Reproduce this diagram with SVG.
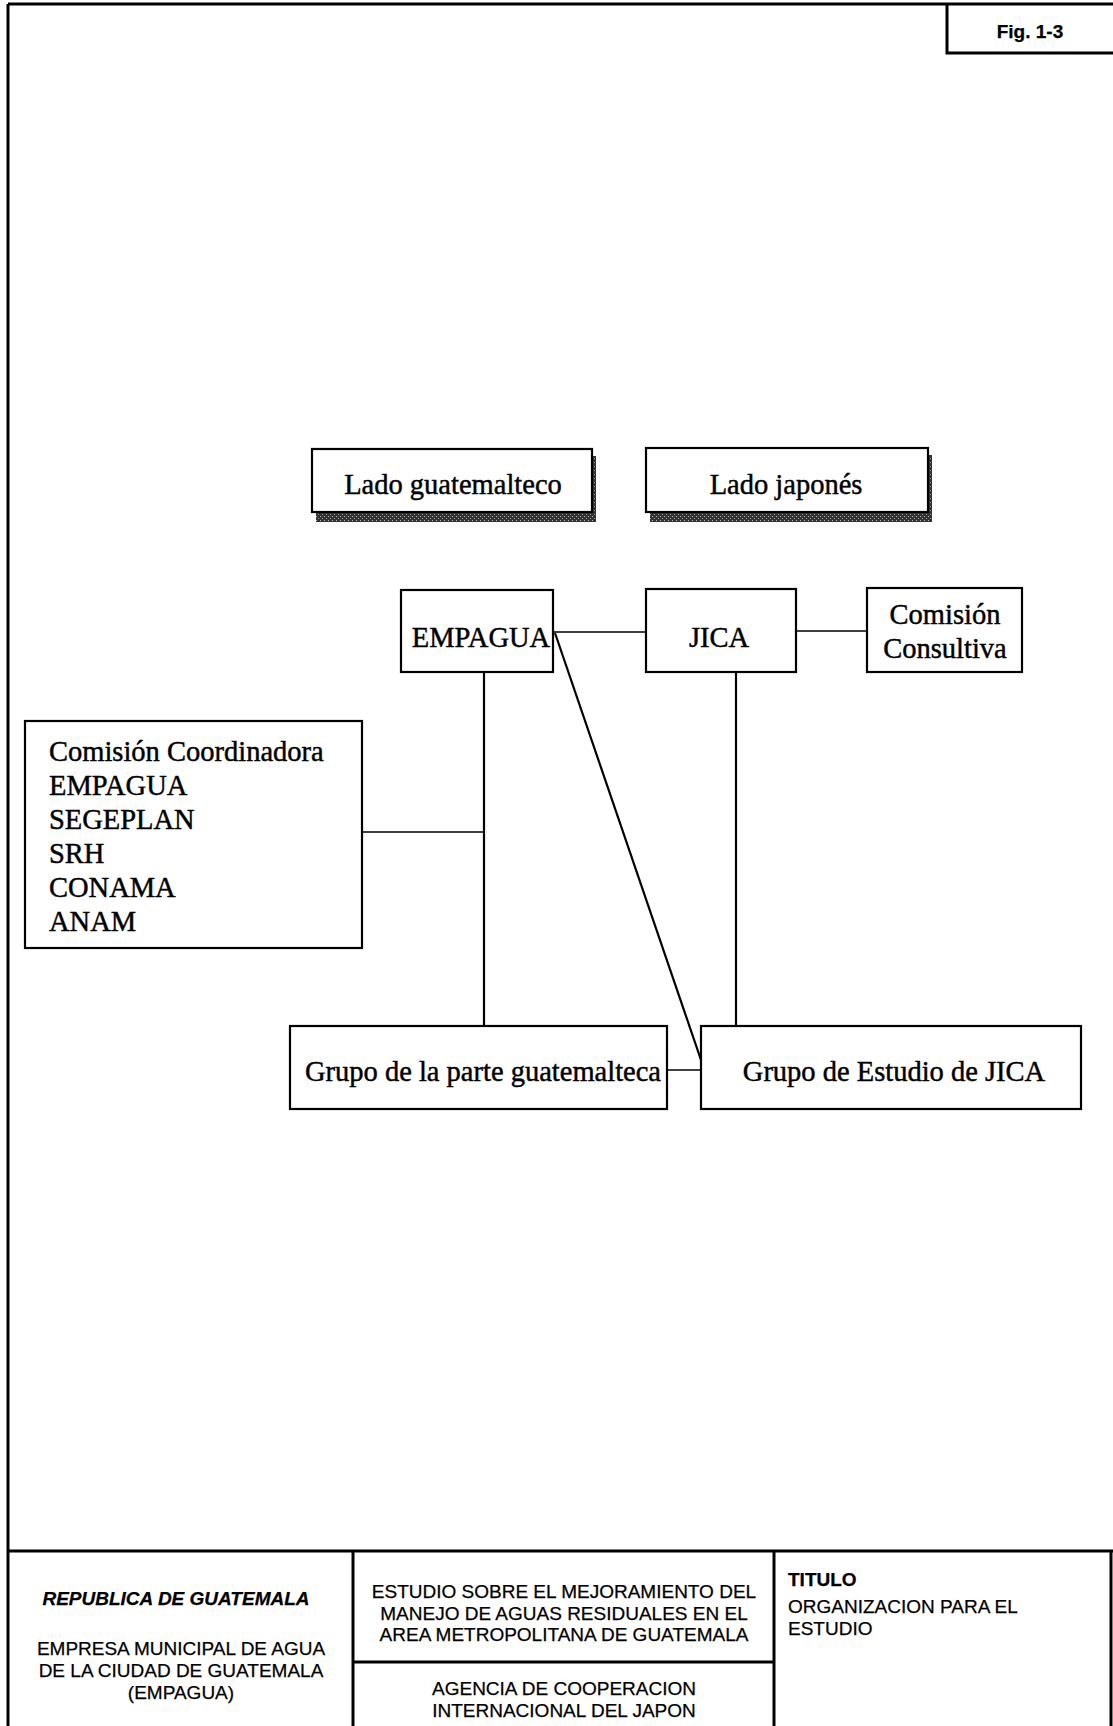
<svg xmlns="http://www.w3.org/2000/svg" width="1113" height="1726" viewBox="0 0 1113 1726">
<style>
.frame{fill:none;stroke:#000;stroke-width:3}
.box{fill:#fff;stroke:#000;stroke-width:2.2}
.conn{fill:none;stroke:#000;stroke-width:1.6}
.vconn{fill:none;stroke:#000;stroke-width:2.2}
.t{font-family:"Liberation Serif","Times New Roman",serif;font-size:28.5px;fill:#000;stroke:#000;stroke-width:0.45}
.tc{text-anchor:middle}
.s{font-family:"Liberation Sans",Arial,sans-serif;font-size:19px;fill:#000;stroke:#000;stroke-width:0.25}
.sb{font-weight:bold}
</style>
<defs>
<pattern id="half" width="4" height="4" patternUnits="userSpaceOnUse">
<rect width="4" height="4" fill="#333"/>
<rect x="0" y="0" width="1" height="1" fill="#bbb"/>
<rect x="2" y="2" width="1" height="1" fill="#999"/>
</pattern>
</defs>
<rect width="1113" height="1726" fill="#fff"/>
<g id="frame">
<line class="frame" x1="8" y1="4" x2="8" y2="1726"/>
<line class="frame" x1="8" y1="4" x2="1113" y2="4" stroke-width="2"/>
<line class="frame" x1="1111" y1="1552" x2="1111" y2="1726"/>
</g>
<g id="fig-label">
<polyline class="frame" points="947,4 947,53 1113,53" stroke-width="2"/>
<text class="s sb tc" x="1030" y="38" font-size="17">Fig. 1-3</text>
</g>
<g id="lado-guatemalteco">
<rect x="316" y="456" width="280" height="66" fill="url(#half)"/>
<rect class="box" x="312" y="449" width="280" height="63"/>
<text class="t tc" x="453" y="494">Lado guatemalteco</text>
</g>
<g id="lado-japones">
<rect x="650" y="455" width="282" height="67" fill="url(#half)"/>
<rect class="box" x="646" y="448" width="282" height="64"/>
<text class="t tc" x="786" y="494">Lado japonés</text>
</g>
<g id="connectors">
<line class="conn" x1="553" y1="632" x2="646" y2="632"/>
<line class="conn" x1="796" y1="631" x2="867" y2="631"/>
<line class="vconn" x1="484" y1="672" x2="484" y2="1026"/>
<line class="vconn" x1="736" y1="672" x2="736" y2="1026"/>
<line class="conn" x1="362" y1="832" x2="484" y2="832"/>
<line class="vconn" x1="555" y1="633" x2="701" y2="1060"/>
<line class="conn" x1="667" y1="1070" x2="701" y2="1070"/>
</g>
<g id="empagua">
<rect class="box" x="401" y="590" width="152" height="82"/>
<text class="t tc" x="481" y="647">EMPAGUA</text>
</g>
<g id="jica">
<rect class="box" x="646" y="589" width="150" height="83"/>
<text class="t tc" x="719" y="647">JICA</text>
</g>
<g id="comision-consultiva">
<rect class="box" x="867" y="588" width="155" height="84"/>
<text class="t tc" x="945" y="624">Comisión</text>
<text class="t tc" x="945" y="658">Consultiva</text>
</g>
<g id="comision-coordinadora">
<rect class="box" x="25" y="721" width="337" height="227"/>
<text class="t" x="49" y="761">Comisión Coordinadora</text>
<text class="t" x="49" y="795">EMPAGUA</text>
<text class="t" x="49" y="829">SEGEPLAN</text>
<text class="t" x="49" y="863">SRH</text>
<text class="t" x="49" y="897">CONAMA</text>
<text class="t" x="49" y="931">ANAM</text>
</g>
<g id="grupo-guatemalteca">
<rect class="box" x="290" y="1026" width="377" height="83"/>
<text class="t tc" x="483" y="1081">Grupo de la parte guatemalteca</text>
</g>
<g id="grupo-jica">
<rect class="box" x="701" y="1026" width="380" height="83"/>
<text class="t tc" x="894" y="1081">Grupo de Estudio de JICA</text>
</g>
<g id="title-block">
<line class="frame" x1="8" y1="1551" x2="1113" y2="1551" stroke-width="2"/>
<line class="frame" x1="353" y1="1551" x2="353" y2="1726" stroke-width="2"/>
<line class="frame" x1="774" y1="1551" x2="774" y2="1726" stroke-width="2"/>
<line class="frame" x1="353" y1="1662" x2="774" y2="1662" stroke-width="2"/>
<text class="s sb tc" x="176" y="1605" font-style="italic">REPUBLICA DE GUATEMALA</text>
<text class="s tc" x="181" y="1655">EMPRESA MUNICIPAL DE AGUA</text>
<text class="s tc" x="181" y="1677">DE LA CIUDAD DE GUATEMALA</text>
<text class="s tc" x="181" y="1699">(EMPAGUA)</text>
<text class="s tc" x="564" y="1598">ESTUDIO SOBRE EL MEJORAMIENTO DEL</text>
<text class="s tc" x="564" y="1620">MANEJO DE AGUAS RESIDUALES EN EL</text>
<text class="s tc" x="564" y="1641">AREA METROPOLITANA DE GUATEMALA</text>
<text class="s tc" x="564" y="1695">AGENCIA DE COOPERACION</text>
<text class="s tc" x="564" y="1717">INTERNACIONAL DEL JAPON</text>
<text class="s sb" x="788" y="1586">TITULO</text>
<text class="s" x="788" y="1613">ORGANIZACION PARA EL</text>
<text class="s" x="788" y="1635">ESTUDIO</text>
</g>
</svg>
